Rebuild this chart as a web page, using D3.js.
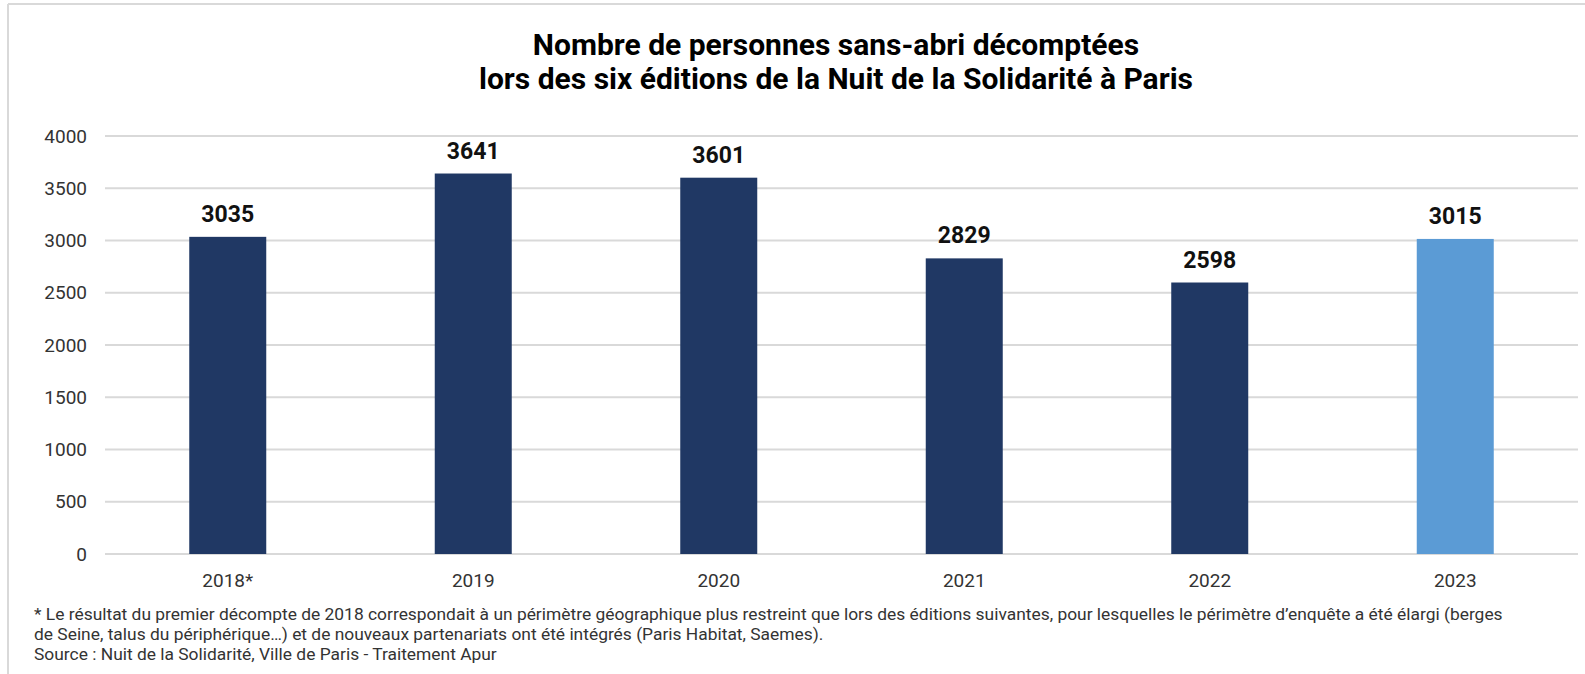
<!DOCTYPE html>
<html>
<head>
<meta charset="utf-8">
<script src="https://cdn.jsdelivr.net/npm/d3@7"></script>
<style>
  body { margin: 0; background: #fff; }
  text { font-family: Roboto, "Liberation Sans", sans-serif; }
</style>
</head>
<body>
<script>
const width = 1585;
const height = 674;

// data
const years = ["2018*", "2019", "2020", "2021", "2022", "2023"];
const counts = [3035, 3641, 3601, 2829, 2598, 3015];
const yTicks = [0, 500, 1000, 1500, 2000, 2500, 3000, 3500, 4000];
const titleLines = [
  "Nombre de personnes sans-abri décomptées",
  "lors des six éditions de la Nuit de la Solidarité à Paris"
];
const noteLines = [
  "* Le résultat du premier décompte de 2018 correspondait à un périmètre géographique plus restreint que lors des éditions suivantes, pour lesquelles le périmètre d’enquête a été élargi (berges",
  "de Seine, talus du périphérique…) et de nouveaux partenariats ont été intégrés (Paris Habitat, Saemes).",
  "Source : Nuit de la Solidarité, Ville de Paris - Traitement Apur"
];

let svg = d3.select("body").append("svg")
  .attr("width", width)
  .attr("height", height);

// frame (only top and left edges show)
svg.append("line")
  .attr("x1", 8).attr("y1", 4).attr("x2", width).attr("y2", 4)
  .attr("stroke", "#d9d9d9").attr("stroke-width", 2);
svg.append("line")
  .attr("x1", 8).attr("y1", 4).attr("x2", 8).attr("y2", height)
  .attr("stroke", "#d9d9d9").attr("stroke-width", 2);

let xScale = d3.scaleBand()
  .domain(years)
  .range([105, 1578]);
let yScale = d3.scaleLinear()
  .domain([0, 4000])
  .range([554, 136]);

// gridlines
svg.selectAll("line.grid")
  .data(yTicks)
  .enter().append("line")
  .attr("class", "grid")
  .attr("x1", 105)
  .attr("x2", 1578)
  .attr("y1", d => yScale(d))
  .attr("y2", d => yScale(d))
  .attr("stroke", "#d9d9d9")
  .attr("stroke-width", 2);

// y labels
svg.selectAll("text.ytick")
  .data(yTicks)
  .enter().append("text")
  .attr("class", "ytick")
  .attr("x", 87)
  .attr("y", d => yScale(d))
  .attr("dy", "0.35em")
  .attr("text-anchor", "end")
  .attr("font-size", 19)
  .attr("fill", "#333")
  .text(d => d);

const barW = 77;
function barColor(d, i) {
  if (i === years.length - 1) { return "#5b9bd5"; } // 2023 highlighted
  return "#203864";
}

svg.selectAll("rect.bar")
  .data(counts)
  .enter().append("rect")
  .attr("class", "bar")
  .attr("x", (d, i) => xScale(years[i]) + xScale.bandwidth() / 2 - barW / 2)
  .attr("y", d => yScale(d))
  .attr("width", barW)
  .attr("height", d => yScale(0) - yScale(d))
  .attr("fill", barColor);

// value labels
svg.selectAll("text.val")
  .data(counts)
  .enter().append("text")
  .attr("class", "val")
  .attr("x", (d, i) => xScale(years[i]) + xScale.bandwidth() / 2)
  .attr("y", d => yScale(d) - 15)
  .attr("text-anchor", "middle")
  .attr("font-size", 23)
  .attr("font-weight", "bold")
  .attr("fill", "#111")
  .text(d => d);

// x labels
svg.selectAll("text.xtick")
  .data(years)
  .enter().append("text")
  .attr("class", "xtick")
  .attr("x", d => xScale(d) + xScale.bandwidth() / 2)
  .attr("y", 587)
  .attr("text-anchor", "middle")
  .attr("font-size", 19)
  .attr("fill", "#333")
  .text(d => d);

// title
svg.selectAll("text.title")
  .data(titleLines)
  .enter().append("text")
  .attr("class", "title")
  .attr("x", 836)
  .attr("y", (d, i) => 55 + i * 34)
  .attr("text-anchor", "middle")
  .attr("font-size", 30)
  .attr("font-weight", "bold")
  .attr("fill", "#000")
  .text(d => d);

// footnote
svg.selectAll("text.note")
  .data(noteLines)
  .enter().append("text")
  .attr("class", "note")
  .attr("x", 34)
  .attr("y", (d, i) => 620 + i * 20)
  .attr("font-size", 17.4)
  .attr("fill", "#333")
  .text(d => d);
</script>
</body>
</html>
